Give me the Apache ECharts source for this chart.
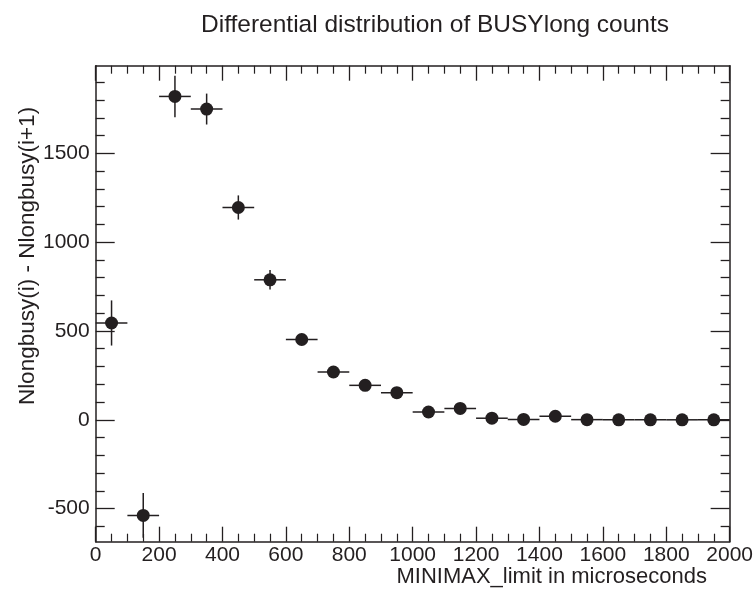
<!DOCTYPE html>
<html>
<head>
<meta charset="utf-8">
<script src="https://cdn.jsdelivr.net/npm/echarts@6/dist/echarts.min.js"></script>
<style>html,body{margin:0;padding:0;background:#fff}#c{width:756px;height:592px}</style>
</head>
<body>
<div id="c"></div>
<script>
const titleText = 'Differential distribution of BUSYlong counts';
const xTitle = 'MINIMAX_limit in microseconds';
const yTitle = 'Nlongbusy(i) - Nlongbusy(i+1)';
const xCenters = [50,150,250,350,450,550,650,750,850,950,1050,1150,1250,1350,1450,1550,1650,1750,1850,1950];
const yValues  = [545,-538,1820,1749,1195,788,452,269,194,153,44,64,9,2,20,1,0,0,0,0];
const yErrors  = [127,126,117,87,68,55,30,22,20,18,14,15,10,9,10,8,6,5,5,5];
const xErrors  = [50,50,50,50,50,50,50,50,50,50,50,50,50,50,50,50,50,50,50,50];
const yMajorTicks = [-500,0,500,1000,1500];
const yMinorTicks = [-600,-400,-300,-200,-100,100,200,300,400,600,700,800,900,1100,1200,1300,1400,1600,1700,1800,1900];
const xMin = 0, xMax = 2000, yMin = -686, yMax = 1993;

const ink = '#231f20';
const font = '"Liberation Sans", Arial, Helvetica, sans-serif';
const plain = v => String(v);

const chart = echarts.init(document.getElementById('c'), null, {renderer:'canvas'});

function xAx(pos, labels){
  return {
    type:'value', position:pos, min:xMin, max:xMax, interval:200,
    axisLine:{show:true, onZero:false, lineStyle:{color:ink, width:1.5}},
    axisTick:{show:true, inside:true, length:15, lineStyle:{color:ink, width:1.3}},
    minorTick:{show:true, splitNumber:4, length:8, lineStyle:{color:ink, width:1.2}},
    axisLabel:{show:labels, formatter:plain, color:ink, fontFamily:font, fontSize:21, margin:3},
    splitLine:{show:false}
  };
}
function yAx(pos, values, len, labels, line){
  return {
    type:'value', position:pos, min:yMin, max:yMax,
    axisLine:{show:line, onZero:false, lineStyle:{color:ink, width:1.5}},
    axisTick:{show:true, inside:true, length:len, customValues:values, lineStyle:{color:ink, width:1.3}},
    axisLabel:{show:labels, customValues:values, formatter:plain, color:ink, fontFamily:font, fontSize:21, margin:6},
    splitLine:{show:false}
  };
}

const errData = xCenters.map((x,i)=>[x, yValues[i], yErrors[i], xErrors[i]]);
const ptData = xCenters.map((x,i)=>[x, yValues[i]]);

chart.setOption({
  animation:false,
  backgroundColor:'#fff',
  title:{text:titleText, left:196, top:8,
    textStyle:{color:ink, fontFamily:font, fontSize:24.5, fontWeight:'normal'}},
  grid:{left:95.7, right:24.3, top:65.7, bottom:50.3, containLabel:false},
  xAxis:[xAx('bottom', true), xAx('top', false)],
  yAxis:[
    yAx('left', yMajorTicks, 19, true, true),
    yAx('left', yMinorTicks, 9, false, false),
    yAx('right', yMajorTicks, 19, false, true),
    yAx('right', yMinorTicks, 9, false, false)
  ],
  graphic:[
    {type:'text', x:707, y:577, style:{text:xTitle, fill:ink, font:'22px '+font, textAlign:'right', textVerticalAlign:'middle'}},
    {type:'text', x:28, y:256, rotation:Math.PI/2, style:{text:yTitle, fill:ink, font:'22.5px '+font, textAlign:'center', textVerticalAlign:'middle'}}
  ],
  series:[
    {
      type:'custom', xAxisIndex:0, yAxisIndex:0, data:errData, z:2,
      renderItem:function(params, api){
        const x=api.value(0), y=api.value(1), ey=api.value(2), ex=api.value(3);
        const l=api.coord([x-ex,y]), r=api.coord([x+ex,y]);
        const t=api.coord([x,y+ey]), b=api.coord([x,y-ey]);
        const st={stroke:ink, lineWidth:1.5};
        return {type:'group', children:[
          {type:'line', shape:{x1:l[0],y1:l[1],x2:r[0],y2:r[1]}, style:st},
          {type:'line', shape:{x1:t[0],y1:t[1],x2:b[0],y2:b[1]}, style:st}
        ]};
      }
    },
    {
      type:'scatter', xAxisIndex:0, yAxisIndex:0, data:ptData, symbol:'circle', symbolSize:13, z:3,
      itemStyle:{color:ink, opacity:1}
    }
  ]
});
</script>
</body>
</html>
